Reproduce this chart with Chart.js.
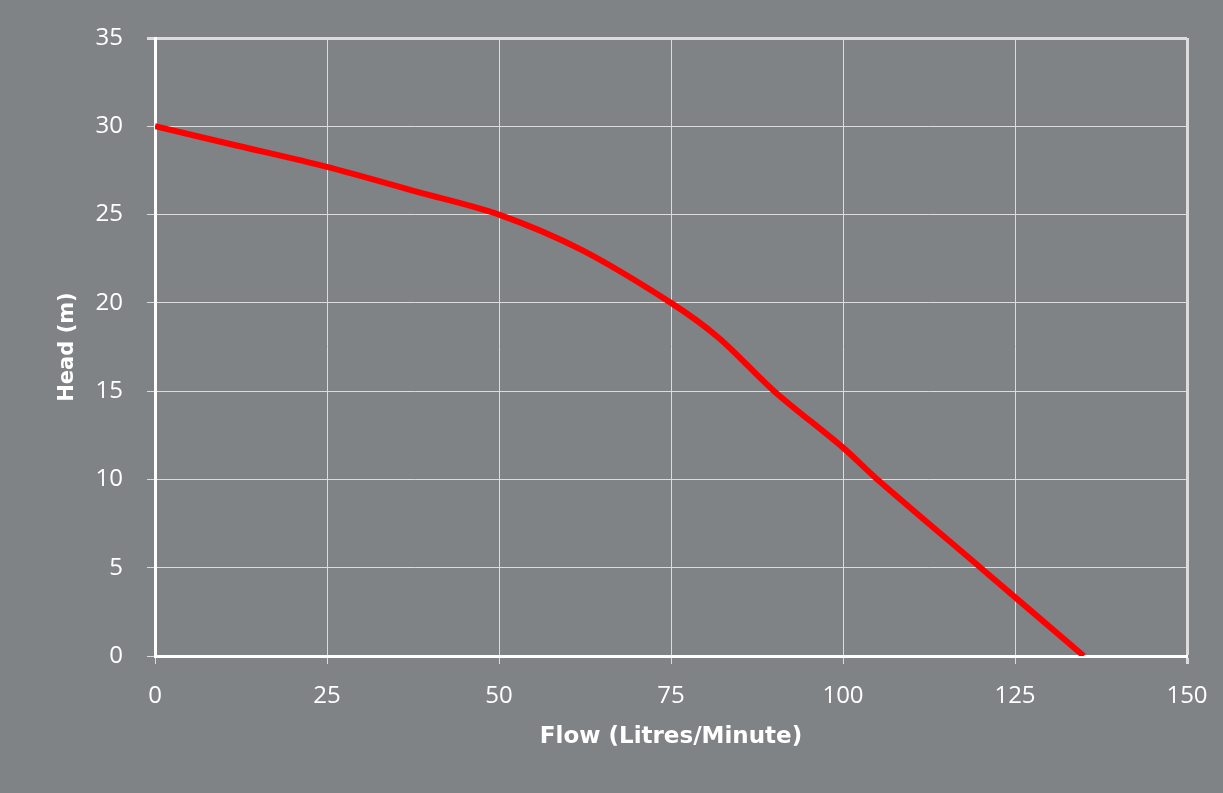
<!DOCTYPE html>
<html>
<head>
<meta charset="utf-8">
<script src="https://cdn.jsdelivr.net/npm/chart.js@4"></script>
<style>
  html, body { margin: 0; padding: 0; background: #808385; }
  #wrap { width: 1223px; height: 793px; }
</style>
</head>
<body>
<div id="wrap"><canvas id="grafico" width="1223" height="793"></canvas></div>
<script>
// Curva da bomba: vazão (L/min) x altura (m)
const vazao = [0, 12, 25, 38, 50, 62, 75, 82, 90, 100, 105, 120, 135];
const altura = [30, 28.9, 27.7, 26.3, 25, 23, 20, 18, 15, 11.8, 10, 5, 0];
const ticksX = [0, 25, 50, 75, 100, 125, 150];
const ticksY = [0, 5, 10, 15, 20, 25, 30, 35];

const pontos = vazao.map((v, i) => ({ x: v, y: altura[i] }));

const ctx = document.getElementById("grafico").getContext("2d");
new Chart(ctx, {
  type: "line",
  data: {
    datasets: [{
      data: pontos,
      borderColor: "#ff0000",
      borderWidth: 6,
      pointRadius: 0,
      tension: 0.3,
      fill: false
    }]
  },
  options: {
    responsive: false,
    animation: false,
    layout: { padding: { left: 40, right: 36, top: 38, bottom: 30 } },
    plugins: { legend: { display: false }, tooltip: { enabled: false } },
    scales: {
      x: {
        type: "linear",
        min: 0,
        max: 150,
        afterBuildTicks: (s) => { s.ticks = ticksX.map(v => ({ value: v })); },
        afterFit: (s) => {
          s.height = 793 - 656 - 30;
          s.paddingLeft = 0;
          s.paddingRight = 0;
        },
        ticks: { color: "#ffffff", font: { family: "Open Sans", size: 24 }, padding: 18, maxRotation: 0 },
        grid: {
          color: "#dcdcdc",
          lineWidth: (c) => (c.tick && c.tick.value === 150 ? 3 : 1),
          tickLength: 8,
          tickColor: "#dcdcdc"
        },
        border: { color: "#ffffff", width: 3 },
        title: {
          display: true,
          text: "Flow (Litres/Minute)",
          color: "#ffffff",
          font: { family: "DejaVu Sans", size: 23, weight: "bold" },
          padding: { top: 0, bottom: 12 }
        }
      },
      y: {
        min: 0,
        max: 35,
        afterBuildTicks: (s) => { s.ticks = ticksY.map(v => ({ value: v })); },
        afterFit: (s) => {
          s.width = 155 - 40;
          s.paddingTop = 0;
          s.paddingBottom = 0;
        },
        ticks: { color: "#ffffff", font: { family: "Open Sans", size: 24 }, padding: 24 },
        grid: {
          color: "#dcdcdc",
          lineWidth: (c) => (c.tick && c.tick.value === 35 ? 3 : 1),
          tickLength: 8,
          tickColor: "#dcdcdc"
        },
        border: { color: "#ffffff", width: 3 },
        title: {
          display: true,
          text: "Head (m)",
          color: "#ffffff",
          font: { family: "DejaVu Sans", size: 21, weight: "bold" },
          padding: { top: 15, bottom: 0 }
        }
      }
    }
  }
});
</script>
</body>
</html>
